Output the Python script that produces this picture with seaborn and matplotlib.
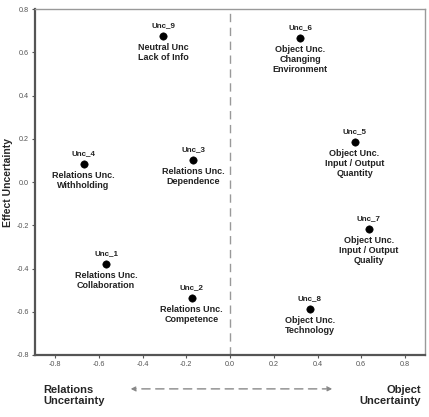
import pandas as pd
import seaborn as sns
import matplotlib.pyplot as plt

# Uncertainty items and their positions
names = ['Unc_1', 'Unc_2', 'Unc_3', 'Unc_4', 'Unc_5', 'Unc_6', 'Unc_7', 'Unc_8', 'Unc_9']
relation_object = [-0.567, -0.175, -0.169, -0.670, 0.569, 0.321, 0.635, 0.365, -0.305]
effect = [-0.378, -0.535, 0.102, 0.082, 0.185, 0.668, -0.216, -0.587, 0.676]
descriptions = [
    'Relations Unc.\nCollaboration',
    'Relations Unc.\nCompetence',
    'Relations Unc.\nDependence',
    'Relations Unc.\nWithholding',
    'Object Unc.\nInput / Output\nQuantity',
    'Object Unc.\nChanging\nEnvironment',
    'Object Unc.\nInput / Output\nQuality',
    'Object Unc.\nTechnology',
    'Neutral Unc\nLack of Info',
]
x_ticks = [-0.8, -0.6, -0.4, -0.2, 0.0, 0.2, 0.4, 0.6, 0.8]
y_ticks = [-0.8, -0.6, -0.4, -0.2, 0.0, 0.2, 0.4, 0.6, 0.8]

df = pd.DataFrame({'name': names, 'x': relation_object, 'y': effect, 'desc': descriptions})

sns.set_style('white')
plt.rcParams['font.family'] = ['Liberation Sans', 'DejaVu Sans']

fig = plt.figure(figsize=(4.29, 4.17), dpi=100)
ax = fig.add_axes([0.0816, 0.1487, 0.9094, 0.8293])

sns.scatterplot(data=df, x='x', y='y', color='black', s=28, edgecolor='black', ax=ax, zorder=3)

for _, r in df.iterrows():
    ax.annotate(r['name'], (r['x'], r['y']), xytext=(0, 5), textcoords='offset points',
                ha='center', va='bottom', fontsize=5.8, fontweight='bold', color='#222222')
    ax.annotate(r['desc'], (r['x'], r['y']), xytext=(0, -5), textcoords='offset points',
                ha='center', va='top', fontsize=6.5, fontweight='bold', color='#222222',
                linespacing=1.15)

ax.axvline(0, color='#999999', linestyle=(0, (6, 4)), linewidth=1.0, zorder=1)

ax.set_xlim(-0.892, 0.892)
ax.set_ylim(-0.8, 0.8)
ax.set_xticks(x_ticks)
ax.set_yticks(y_ticks)
ax.set_xticklabels([f'{t:.1f}' for t in x_ticks])
ax.set_yticklabels([f'{t:.1f}' for t in y_ticks])
ax.tick_params(axis='both', labelsize=5.2, labelcolor='#555555', length=2.5, width=0.8,
               color='#555555', direction='out', left=True, bottom=True, pad=2)
ax.set_xlabel('')
ax.set_ylabel('Effect Uncertainty', fontsize=7.5, fontweight='bold', labelpad=2)

for side in ['left', 'bottom']:
    ax.spines[side].set_color('#555555')
    ax.spines[side].set_linewidth(1.6)
for side in ['top', 'right']:
    ax.spines[side].set_color('#999999')
    ax.spines[side].set_linewidth(1.0)

# axis direction labels below the plot
fig.text(0.10, 0.052, 'Relations\nUncertainty', ha='left', va='center', fontsize=8,
         fontweight='bold', linespacing=1.2)
fig.text(0.982, 0.052, 'Object\nUncertainty', ha='right', va='center', fontsize=8,
         fontweight='bold', linespacing=1.2)
ax.annotate('', xy=(0.238, -0.098), xytext=(0.769, -0.098), xycoords='axes fraction',
            textcoords='axes fraction',
            arrowprops=dict(arrowstyle='<|-|>', color='#888888', linestyle=(0, (6, 4)),
                            linewidth=1.0, mutation_scale=7))

fig.savefig('out.png', dpi=100)
